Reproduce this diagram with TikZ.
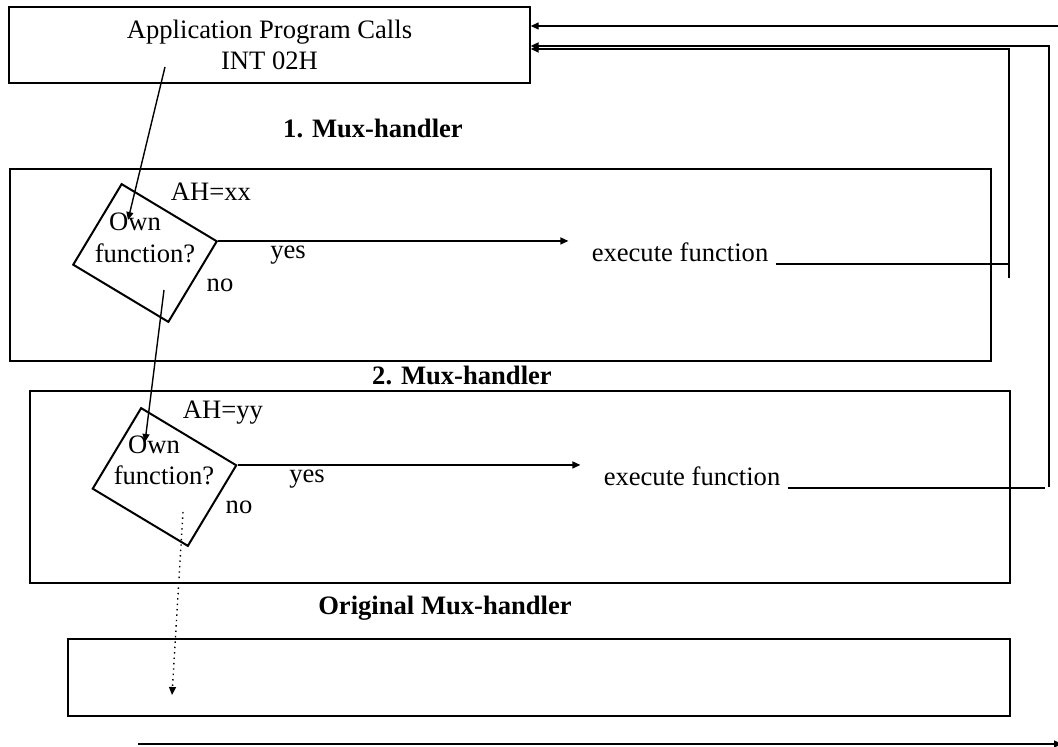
\documentclass[tikz,border=0pt]{standalone}
\usepackage{fontspec}
\setmainfont{Liberation Serif}
\usetikzlibrary{arrows.meta}
\begin{document}
\begin{tikzpicture}[x=0.5pt,y=-0.5pt,line width=0.7pt,
  every node/.style={font=\fontsize{13.3}{15.3}\selectfont},
  box/.style={draw,inner sep=0pt},
  title/.style={font=\fontsize{13.3}{15.3}\selectfont\bfseries},
  decision/.style={draw,line width=1pt,rotate=-31,inner sep=0pt,
    minimum width=55.5pt,minimum height=47pt},
  >={Triangle[length=4pt,width=3.5pt]}]
  \useasboundingbox (0,0) rectangle (1058,747);

  \node[box,align=center,minimum width=260.5pt,minimum height=38pt] (app) at (269.5,45) {Application Program Calls\\INT 02H};
  \node[title] (t1) at (373,128) {1. Mux-handler};
  \node[box,minimum width=490.5pt,minimum height=96pt] (mux1) at (500.5,265) {};
  \node[title] (t2) at (462,375) {2. Mux-handler};
  \node[box,minimum width=490pt,minimum height=96pt] (mux2) at (520,487) {};
  \node[title] (t3) at (445,608) {Original Mux-handler};
  \node[box,line width=1.3pt,minimum width=471pt,minimum height=38.5pt] (orig) at (539,677.5) {};

  \node[decision] (d1) at (145,253) {};
  \node (ah1) at (211,192) {AH=xx};
  \node (own1) at (135,222) {Own};
  \node (fn1) at (145,253) {function?};
  \node (yes1) at (288,255) {yes};
  \node (no1) at (220,285) {no};
  \node (exe1) at (680,252) {execute function};

  \node[decision] (d2) at (164.5,477) {};
  \node (ah2) at (223,413) {AH=yy};
  \node (own2) at (154,445) {Own};
  \node (fn2) at (164,475) {function?};
  \node (yes2) at (307,479) {yes};
  \node (no2) at (239,507) {no};
  \node (exe2) at (692,476) {execute function};

  \coordinate (a0) at (165,67);
  \coordinate (a1) at (128,220);
  \coordinate (n0) at (164,290);
  \coordinate (n1) at (145,442);
  \coordinate (n2) at (183,512);
  \coordinate (n3) at (172,695);
  \coordinate (r1) at (1010,264);
  \coordinate (r2) at (1045,488);
  \coordinate (c1) at (1009,278);
  \coordinate (c2) at (1009,49);
  \coordinate (c3) at (1049,487);
  \coordinate (c4) at (1049,46);
  \coordinate (c5) at (1062,26);
  \coordinate (b0) at (138,744);
  \coordinate (b1) at (1062,744);

  \draw[->] (a0) -- (a1);
  \draw[->] (n0) -- (n1);
  \draw[->,dotted] (n2) -- (n3);
  \draw[->] (d1.north east) -- (d1.north east -| exe1.west) [shorten >=8pt];
  \draw[->] (d2.north east) -- (d2.north east -| exe2.west) [shorten >=8pt];
  \draw[line width=1pt] (exe1.east |- r1) -- (r1);
  \draw[line width=1pt] (exe2.east |- r2) -- (r2);
  \draw[->,line width=1pt] (c1) -- (c2) -- (c2 -| app.east);
  \draw[->,line width=1pt] (c3) -- (c4) -- (c4 -| app.east);
  \draw[->] (c5) -- (c5 -| app.east);
  \draw[->] (b0) -- (b1);
\end{tikzpicture}
\end{document}
